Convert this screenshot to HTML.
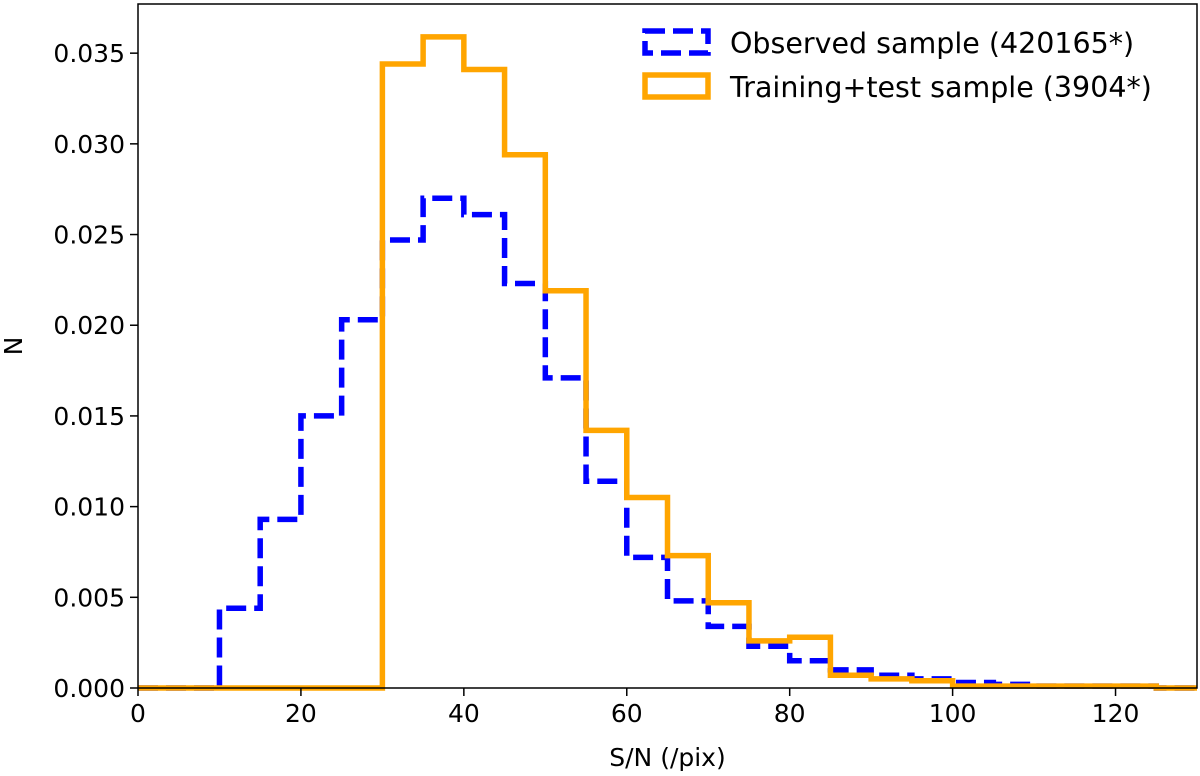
<!DOCTYPE html>
<html><head><meta charset="utf-8"><style>
body{margin:0;background:#fff;}
svg{display:block;font-family:"DejaVu Sans","Liberation Sans",sans-serif;}
</style></head><body>
<svg id="chart" width="1200" height="776"></svg>
<script>
const binEdges=[0,5,10,15,20,25,30,35,40,45,50,55,60,65,70,75,80,85,90,95,100,105,110,115,120,125,130];
const observed=[0,0,0.0044,0.0093,0.0150,0.0203,0.0247,0.0270,0.0261,0.0223,0.0171,0.0114,0.0072,0.0048,0.0034,0.0023,0.0015,0.0010,0.0007,0.0005,0.0003,0.0002,0.0001,0.0001,0.0001,0];
const training=[0,0,0,0,0,0,0.0344,0.0359,0.0341,0.0294,0.0219,0.0142,0.0105,0.0073,0.0047,0.0026,0.0028,0.0007,0.0005,0.0004,0.0001,0.0001,0.0001,0.0001,0.0001,0];
const xTicks=[0,20,40,60,80,100,120];
const yTicks=[0,0.005,0.010,0.015,0.020,0.025,0.030,0.035];
const L=138,R=1197,T=4,B=688,XMAX=130,YMAX=0.03771;
const X=v=>L+(v/XMAX)*(R-L);
const Y=v=>B-(v/YMAX)*(B-T);
const svg=document.getElementById('chart');
const NS='http://www.w3.org/2000/svg';
function mk(tag,attrs,text){const e=document.createElementNS(NS,tag);for(const k in attrs)e.setAttribute(k,attrs[k]);if(text!==undefined)e.textContent=text;svg.appendChild(e);return e;}
function stepPath(vals){let d='M'+X(binEdges[0])+','+Y(vals[0]);for(let i=0;i<vals.length;i++){d+=' L'+X(binEdges[i])+','+Y(vals[i])+' L'+X(binEdges[i+1])+','+Y(vals[i]);}return d;}
let p=mk('path',{d:stepPath(observed),fill:'none',stroke:'#0000ff','stroke-width':5.5,'stroke-dasharray':'20,8'});


p=mk('path',{d:stepPath(training),fill:'none',stroke:'#ffa500','stroke-width':5.5});


let fr=mk('rect',{x:L,y:T,width:R-L,height:B-T,fill:'none',stroke:'#000','stroke-width':1.5});


xTicks.forEach(t=>{
 let l=mk('line',{x1:X(t),x2:X(t),y1:B,y2:B+8,stroke:'#000','stroke-width':1.5});
 
 
 let tx=mk('text',{x:X(t),y:B+34,'font-size':25,'text-anchor':'middle'},String(t));
 
 
});
yTicks.forEach(t=>{
 let l=mk('line',{x1:L-8,x2:L,y1:Y(t),y2:Y(t),stroke:'#000','stroke-width':1.5});
 
 
 let tx=mk('text',{x:L-13,y:Y(t)+9,'font-size':25,'text-anchor':'end'},t.toFixed(3));
 
 
});
let xt=mk('text',{x:(L+R)/2,y:766,'font-size':25,'text-anchor':'middle'},'S/N (/pix)');


let yt=mk('text',{x:22,y:(T+B)/2,'font-size':25,'text-anchor':'middle',transform:'rotate(-90 22 '+((T+B)/2)+')'},'N');


let lg=mk('rect',{x:645,y:31,width:63,height:22,fill:'none',stroke:'#0000ff','stroke-width':5.5,'stroke-dasharray':'20,8'});


let lt=mk('text',{x:730,y:53,'font-size':28.5},'Observed sample (420165*)');


lg=mk('rect',{x:645,y:75,width:63,height:22,fill:'none',stroke:'#ffa500','stroke-width':5.5});


lt=mk('text',{x:730,y:97,'font-size':28.5},'Training+test sample (3904*)');


</script>
</body></html>
